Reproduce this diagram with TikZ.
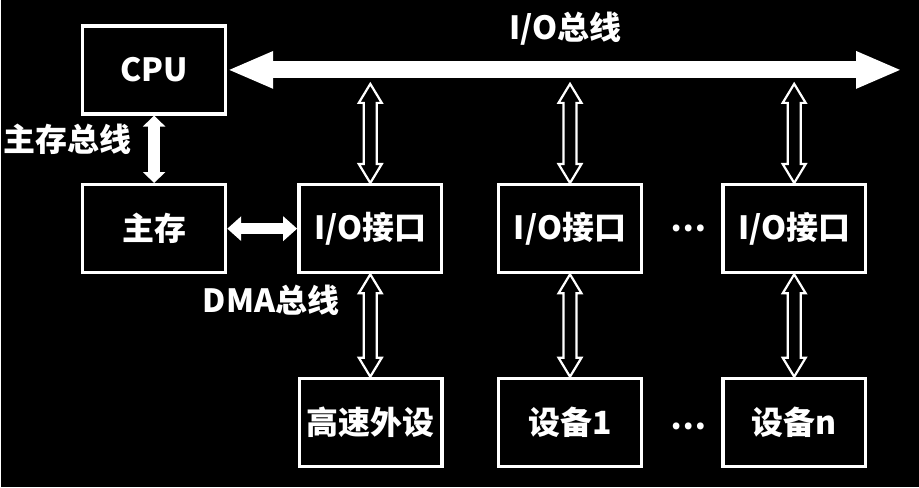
\documentclass[tikz,border=0pt]{standalone}
\usepackage{fontspec}
\newfontfamily\cjk{Noto Sans CJK SC}
\usetikzlibrary{arrows.meta,calc}

\begin{document}
\begin{tikzpicture}[x=1pt,y=-1pt,
    every node/.style={text=white,font=\cjk\bfseries\fontsize{32}{35}\selectfont},
    unit/.style={draw=white,line width=3.5pt,minimum width=143pt,minimum height=88pt},
    hollow/.style={draw=white,fill=black,line width=2.2pt,
      to path={let \p1=(\tikztostart), \p2=(\tikztotarget) in
        (\x1,\y1) -- (\x1+11.5pt,\y1-19pt) -- (\x1+6.5pt,\y1-19pt) -- (\x1+6.5pt,\y2+19pt)
        -- (\x1+11.5pt,\y2+19pt) -- (\x1,\y2) -- (\x1-11.5pt,\y2+19pt) -- (\x1-6.5pt,\y2+19pt)
        -- (\x1-6.5pt,\y1-19pt) -- (\x1-11.5pt,\y1-19pt) -- cycle}}]
  \fill[black] (0,0) rectangle (919,488);

  \node[unit] (cpu) at (153,70) {CPU};
  \node[unit] (mem) at (153,229) {主存};

  \foreach \k/\x in {1/369.5,2/569.5,3/794}
  { \node[unit] (io\k) at (\x,229) {I/O接口};
    \coordinate (tap\k) at (\x,84); }

  \node[unit] (dev1) at (370,423) {高速外设};
  \node[unit] (dev2) at (569.5,423) {设备1};
  \node[unit] (dev3) at (794,423) {设备n};

  \node (dots1) at (688,229) {…};
  \node (dots2) at (688,427) {…};

  % buses
  \coordinate (busend) at (902,70);
  \draw[white,line width=17pt,{Triangle[width=34pt,length=46pt]}-{Triangle[width=34pt,length=46pt]}] (cpu.east) -- (busend);
  \node (iobus) at (565,29) {I/O总线};

  \draw[white,line width=12pt,{Triangle[width=22pt,length=11pt]}-{Triangle[width=22pt,length=11pt]}] (cpu) -- (mem);
  \node (membus) at (66,140) {主存总线};

  \draw[white,line width=11pt,{Triangle[width=24pt,length=14pt]}-{Triangle[width=24pt,length=14pt]}] (mem) -- (io1);
  \node (dmabus) at (270,301) {DMA总线};

  \foreach \k in {1,2,3}
  { \draw[hollow] (tap\k) to (io\k.north);
    \draw[hollow] (io\k.south) to (dev\k.north); }
\end{tikzpicture}
\end{document}
